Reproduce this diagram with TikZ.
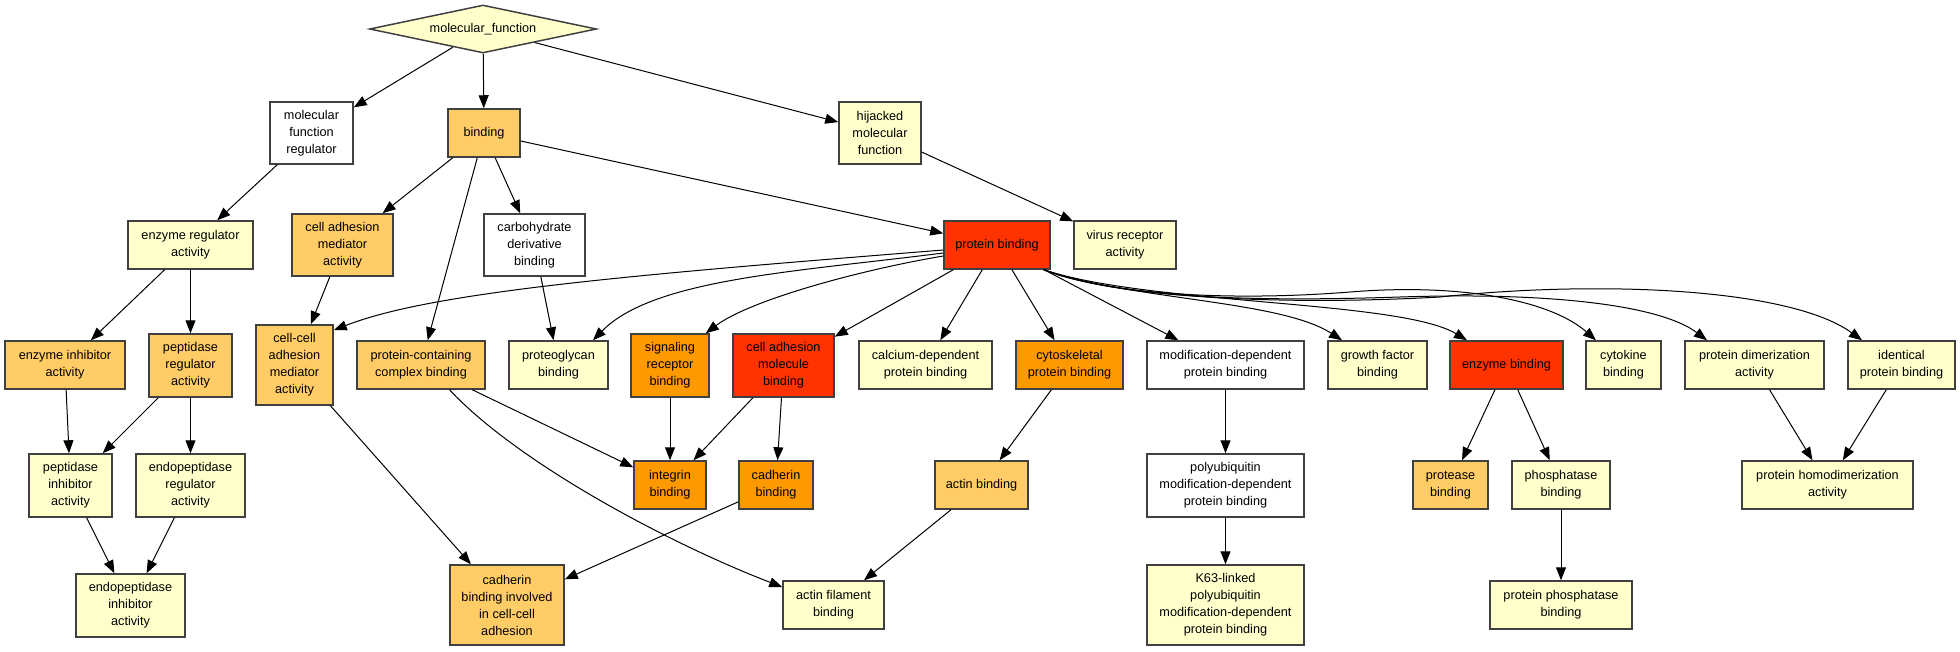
\documentclass[tikz,border=0pt]{standalone}
\usepackage{fontspec}
\setmainfont{Liberation Sans}
\usetikzlibrary{shapes.geometric,arrows.meta}
\definecolor{cY}{HTML}{FFFFCC}
\definecolor{cO}{HTML}{FFCC66}
\definecolor{cD}{HTML}{FF9900}
\definecolor{cR}{HTML}{FF3300}
\definecolor{bord}{HTML}{404040}
\begin{document}
\begin{tikzpicture}[x=1pt,y=-1pt,
  box/.style={draw=bord, line width=1.5pt, inner sep=0pt, align=center, font=\fontsize{12.7pt}{17pt}\selectfont},
  sz/.style 2 args={minimum width=#1pt, minimum height=#2pt},
  arr/.style={draw=black, line width=1pt, -{Triangle[length=13pt,width=10pt]}},
]
\useasboundingbox (0,0) rectangle (1960,651);

% row 0
\node[box, shape=diamond, fill=cY, sz={227}{48}, shape aspect=4.7] (mf) at (483,29) {molecular\_function};
% row 1
\node[box, fill=white, sz={83}{62}] (mfr) at (311.5,133) {molecular\\function\\regulator};
\node[box, fill=cO, sz={72}{48}] (bind) at (484,133) {binding};
\node[box, fill=cY, sz={82}{62}] (hij) at (880,133) {hijacked\\molecular\\function};
% row 2
\node[box, fill=cY, sz={125}{48}] (era) at (190.5,245) {enzyme regulator\\activity};
\node[box, fill=cO, sz={101}{62}] (cam) at (342.5,245) {cell adhesion\\mediator\\activity};
\node[box, fill=white, sz={101}{62}] (cdb) at (534.5,245) {carbohydrate\\derivative\\binding};
\node[box, fill=cR, sz={106}{48}] (pb) at (997,245) {protein binding};
\node[box, fill=cY, sz={102}{48}] (vra) at (1125,245) {virus receptor\\activity};
% row 3
\node[box, fill=cO, sz={120}{48}] (eia) at (65,365) {enzyme inhibitor\\activity};
\node[box, fill=cO, sz={83}{63}] (pra) at (190.5,365.5) {peptidase\\regulator\\activity};
\node[box, fill=cO, sz={77}{80}] (cc) at (294.5,365) {cell-cell\\adhesion\\mediator\\activity};
\node[box, fill=cO, sz={128}{48}] (pccb) at (421,365) {protein-containing\\complex binding};
\node[box, fill=cY, sz={99}{48}] (pgb) at (558.5,365) {proteoglycan\\binding};
\node[box, fill=cD, sz={78}{63}] (srb) at (670,365.5) {signaling\\receptor\\binding};
\node[box, fill=cR, sz={101}{63}] (camb) at (783.5,365.5) {cell adhesion\\molecule\\binding};
\node[box, fill=cY, sz={133}{48}] (cdpb) at (925.5,365) {calcium-dependent\\protein binding};
\node[box, fill=cD, sz={107}{48}] (cspb) at (1069.5,365) {cytoskeletal\\protein binding};
\node[box, fill=white, sz={157}{48}] (mdpb) at (1225.5,365) {modification-dependent\\protein binding};
\node[box, fill=cY, sz={99}{48}] (gfb) at (1377.5,365) {growth factor\\binding};
\node[box, fill=cR, sz={113}{48}] (eb) at (1506.5,365) {enzyme binding};
\node[box, fill=cY, sz={75}{48}] (cb) at (1623.5,365) {cytokine\\binding};
\node[box, fill=cY, sz={139}{48}] (pda) at (1754.5,365) {protein dimerization\\activity};
\node[box, fill=cY, sz={107}{48}] (ipb) at (1901.5,365) {identical\\protein binding};
% row 4
\node[box, fill=cY, sz={83}{63}] (pia) at (70.5,485.5) {peptidase\\inhibitor\\activity};
\node[box, fill=cY, sz={109}{63}] (epra) at (190.5,485.5) {endopeptidase\\regulator\\activity};
\node[box, fill=cD, sz={72}{48}] (ib) at (670,485) {integrin\\binding};
\node[box, fill=cD, sz={74}{48}] (cadb) at (776,485) {cadherin\\binding};
\node[box, fill=cO, sz={93}{48}] (ab) at (981.5,485) {actin binding};
\node[box, fill=white, sz={157}{63}] (pmdpb) at (1225.5,485.5) {polyubiquitin\\modification-dependent\\protein binding};
\node[box, fill=cO, sz={75}{48}] (prb) at (1450.5,485) {protease\\binding};
\node[box, fill=cY, sz={98}{48}] (phb) at (1561,485) {phosphatase\\binding};
\node[box, fill=cY, sz={171}{48}] (phda) at (1827.5,485) {protein homodimerization\\activity};
% row 5
\node[box, fill=cY, sz={109}{63}] (epia) at (130.5,605.5) {endopeptidase\\inhibitor\\activity};
\node[box, fill=cO, sz={114}{80}] (cbic) at (507,605) {cadherin\\binding involved\\in cell-cell\\adhesion};
\node[box, fill=cY, sz={101}{48}] (afb) at (833.5,605) {actin filament\\binding};
\node[box, fill=cY, sz={157}{80}] (k63) at (1225.5,605) {K63-linked\\polyubiquitin\\modification-dependent\\protein binding};
\node[box, fill=cY, sz={142}{48}] (ppb) at (1561,605) {protein phosphatase\\binding};

% straight edges
\draw[arr] (mf) -- (mfr);
\draw[arr] (mf) -- (bind);
\draw[arr] (mf) -- (hij);
\draw[arr] (mfr) -- (era);
\draw[arr] (bind) -- (cam);
\draw[arr] (bind) -- (pccb);
\draw[arr] (bind) -- (cdb);
\draw[arr] (bind) -- (pb);
\draw[arr] (hij) -- (vra);
\draw[arr] (era) -- (eia);
\draw[arr] (era) -- (pra);
\draw[arr] (cam) -- (cc);
\draw[arr] (cdb) -- (pgb);
\draw[arr] (pb) -- (camb);
\draw[arr] (pb) -- (cdpb);
\draw[arr] (pb) -- (cspb);
\draw[arr] (pb) -- (mdpb);
\draw[arr] (eia) -- (pia);
\draw[arr] (pra) -- (pia);
\draw[arr] (pra) -- (epra);
\draw[arr] (pia) -- (epia);
\draw[arr] (epra) -- (epia);
\draw[arr] (cc) -- (cbic);
\draw[arr] (pccb) -- (ib);
\draw[arr] (srb) -- (ib);
\draw[arr] (camb) -- (ib);
\draw[arr] (camb) -- (cadb);
\draw[arr] (cadb) -- (cbic);
\draw[arr] (cspb) -- (ab);
\draw[arr] (ab) -- (afb);
\draw[arr] (mdpb) -- (pmdpb);
\draw[arr] (pmdpb) -- (k63);
\draw[arr] (eb) -- (prb);
\draw[arr] (eb) -- (phb);
\draw[arr] (phb) -- (ppb);
\draw[arr] (pda) -- (phda);
\draw[arr] (ipb) -- (phda);

% curved edges
\draw[arr] ([yshift=-5pt]pb.west) .. controls (644,274) and (433,291) .. ([yshift=-6pt]cc.north east);
\draw[arr] ([yshift=-8pt]pb.west) .. controls (794,272) and (653,279) .. ([xshift=34.5pt]pgb.north);
\draw[arr] ([yshift=-11pt]pb.west) .. controls (860,270) and (750,300) .. ([xshift=-4pt]srb.north east);
\draw[arr] ([xshift=28.5pt]pccb.south) .. controls (520,465) and (673,545) .. ([yshift=18pt]afb.west);
\draw[arr] ([xshift=-7pt]pb.south east) .. controls (1130,300) and (1280,300) .. ([xshift=-35.5pt]gfb.north);
\draw[arr] ([xshift=-7pt]pb.south east) .. controls (1150,305) and (1400,300) .. ([xshift=-39.5pt]eb.north);
\draw[arr] ([xshift=-7pt]pb.south east) .. controls (1120,298) and (1250,300) .. (1350,292)
  .. controls (1460,283) and (1550,300) .. ([xshift=-27.5pt]cb.north);
\draw[arr] ([xshift=-7pt]pb.south east) .. controls (1120,298) and (1250,302) .. (1400,297)
  .. controls (1550,292) and (1660,305) .. ([xshift=-47.5pt]pda.north);
\draw[arr] ([xshift=-7pt]pb.south east) .. controls (1120,300) and (1300,305) .. (1440,297)
  .. controls (1600,280) and (1790,288) .. ([xshift=-39.5pt]ipb.north);
\end{tikzpicture}
\end{document}
